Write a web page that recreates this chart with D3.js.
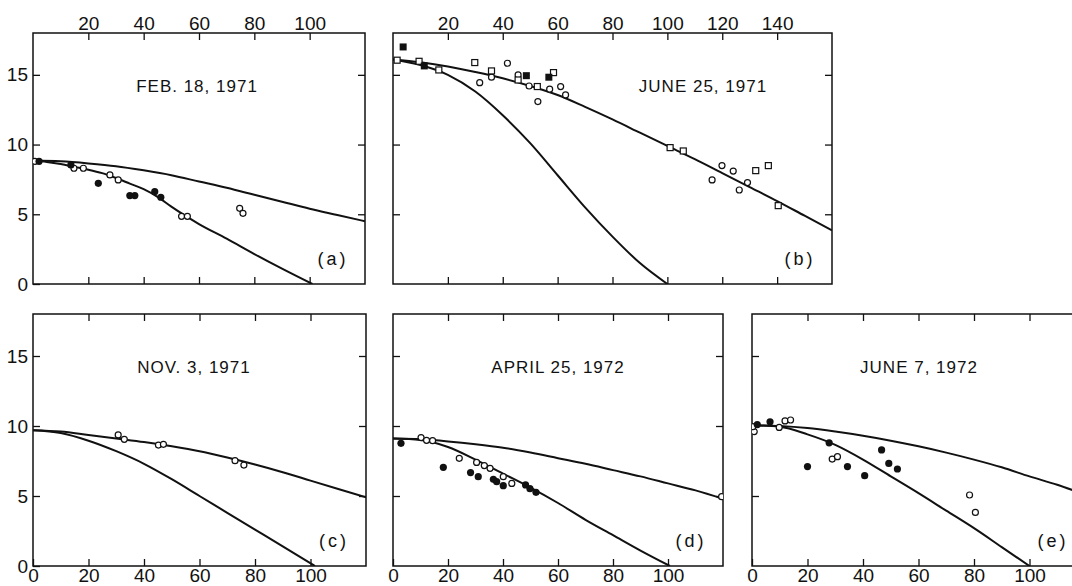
<!DOCTYPE html>
<html>
<head>
<meta charset="utf-8">
<script src="https://cdn.jsdelivr.net/npm/d3@7"></script>
<style>
body { margin: 0; background: #fff; }
svg { display: block; }
.axis text { font-family: "Liberation Sans", Arial, sans-serif; font-size: 19px; fill: #111; }
.axis line { stroke: #111; stroke-width: 1.3; }
.axis path { display: none; }
.title { font-family: "Liberation Sans", Arial, sans-serif; font-size: 17px; letter-spacing: 1px; fill: #111; }
.tag { font-family: "Liberation Sans", Arial, sans-serif; font-size: 18px; letter-spacing: 3px; fill: #111; }
</style>
</head>
<body>
<svg id="chart" width="1072" height="586"></svg>
<script>
// curves are [distance, value] pairs
const febUpper = [[0,8.85],[10,8.8],[20,8.65],[30,8.45],[40,8.15],[50,7.8],[60,7.35],[70,6.9],[80,6.4],[90,5.9],[100,5.4],[110,4.95],[120,4.5]];
const febLower = [[0,8.85],[5,8.75],[10,8.6],[15,8.4],[20,8.2],[25,7.95],[30,7.6],[35,7.2],[40,6.8],[45,6.25],[50,5.55],[55,4.9],[60,4.3],[70,3.25],[80,2.15],[90,1.1],[101,0]];
const febOpen = [[0.7,8.8],[14.8,8.3],[18.2,8.3],[27.8,7.82],[30.8,7.46],[53.7,4.85],[55.8,4.85],[74.7,5.43],[75.9,5.07]];
const febFilled = [[2.2,8.8],[13.7,8.54],[23.6,7.22],[35,6.34],[36.8,6.34],[44,6.62],[46.2,6.22]];

const juneUpper = [[0,16.1],[10,15.9],[20,15.6],[30,15.2],[40,14.75],[50,14.2],[60,13.55],[70,12.7],[80,11.8],[90,10.85],[100,9.9],[110,8.95],[120,7.95],[130,6.95],[140,5.95],[150,4.9],[160,3.85]];
const juneLower = [[0,16.1],[10,15.7],[20,15.0],[30,13.8],[40,12.1],[50,10.1],[60,7.8],[70,5.5],[80,3.4],[90,1.5],[100,0]];
const juneOpen = [[31.6,14.44],[35.9,14.83],[41.7,15.83],[45.6,14.99],[49.6,14.2],[52.8,13.08],[57.1,13.97],[61.1,14.16],[62.9,13.56],[116.3,7.46],[119.9,8.49],[124,8.1],[126.2,6.74],[129.2,7.27]];
const juneOpenSq = [[1.5,16.05],[9.5,15.97],[16.7,15.35],[29.8,15.88],[35.9,15.28],[45.6,14.63],[52.6,14.16],[58.5,15.16],[101,9.78],[105.8,9.54],[132.2,8.13],[136.8,8.49],[140.4,5.62]];
const juneFilledSq = [[3.7,17.0],[11.4,15.64],[48.6,14.94],[56.8,14.83]];

const novUpper = [[0,9.7],[10,9.6],[20,9.35],[30,9.1],[40,8.85],[50,8.55],[60,8.2],[70,7.75],[80,7.25],[90,6.7],[100,6.1],[110,5.5],[120,4.9]];
const novLower = [[0,9.7],[10,9.5],[20,8.95],[30,8.2],[40,7.3],[50,6.2],[60,5.0],[70,3.8],[80,2.6],[90,1.4],[101.6,0]];
const novOpen = [[30.7,9.36],[32.9,9.05],[45.2,8.64],[47,8.69],[72.8,7.52],[76,7.21]];

const aprUpper = [[0,9.1],[10,9.05],[20,8.9],[30,8.7],[40,8.45],[50,8.1],[60,7.7],[70,7.3],[80,6.85],[90,6.4],[100,5.9],[110,5.4],[120,4.8]];
const aprLower = [[0,9.1],[10,9.0],[20,8.5],[30,7.6],[40,6.6],[50,5.6],[60,4.5],[70,3.3],[80,2.2],[90,1.1],[100.7,0]];
const aprOpen = [[10.2,9.17],[12.2,8.98],[14.4,8.95],[24.1,7.69],[30.4,7.4],[33.2,7.17],[35.3,6.98],[40.1,6.38],[43.2,5.9],[119.5,4.95]];
const aprFilled = [[2.9,8.76],[18.3,7.05],[28.2,6.67],[31,6.38],[36.5,6.19],[37.7,6.02],[40.1,5.74],[48.2,5.79],[49.8,5.52],[52,5.26]];

const jun72Upper = [[0,10.05],[10,10.0],[20,9.85],[30,9.6],[40,9.3],[50,8.95],[60,8.55],[70,8.1],[80,7.6],[90,7.05],[100,6.4],[110,5.8],[120,5.1]];
const jun72Lower = [[0,10.05],[10,9.95],[20,9.4],[30,8.65],[40,7.6],[50,6.4],[60,5.2],[70,3.95],[80,2.7],[90,1.35],[100,0]];
const jun72Open = [[0.8,9.6],[0.3,9.95],[9.8,9.9],[11.9,10.36],[13.9,10.43],[28.9,7.64],[30.8,7.81],[78.4,5.07],[80.5,3.83]];
const jun72Filled = [[1.9,10.1],[6.5,10.3],[20,7.1],[27.8,8.8],[34.4,7.1],[40.6,6.45],[46.7,8.29],[49.3,7.33],[52.4,6.93]];

const yLabels = [0, 5, 10, 15];

const panels = [
  { id: "a", left: 33, top: 33, w: 332, h: 251, xMax: 120, title: "FEB. 18, 1971", titleX: 164, xLab: "top", yLab: true,
    curves: [febUpper, febLower], open: febOpen, filled: febFilled },
  { id: "b", left: 393, top: 33, w: 439, h: 251, xMax: 160, title: "JUNE 25, 1971", titleX: 310, xLab: "top", yLab: false,
    curves: [juneUpper, juneLower], open: juneOpen, openSq: juneOpenSq, filledSq: juneFilledSq },
  { id: "c", left: 33, top: 314, w: 333, h: 252, xMax: 120, title: "NOV. 3, 1971", titleX: 161, xLab: "bottom", yLab: true,
    curves: [novUpper, novLower], open: novOpen },
  { id: "d", left: 393, top: 314, w: 330, h: 252, xMax: 120, title: "APRIL 25, 1972", titleX: 165, xLab: "bottom", yLab: false,
    curves: [aprUpper, aprLower], open: aprOpen, filled: aprFilled },
  { id: "e", left: 752, top: 314, w: 333, h: 252, xMax: 120, title: "JUNE 7, 1972", titleX: 167, xLab: "bottom", yLab: false,
    curves: [jun72Upper, jun72Lower], open: jun72Open, filled: jun72Filled }
];

const svg = d3.select("#chart");

panels.forEach(function (p) {
  const g = svg.append("g").attr("transform", "translate(" + p.left + "," + p.top + ")");
  const x = d3.scaleLinear().domain([0, p.xMax]).range([0, p.w]);
  const y = d3.scaleLinear().domain([0, 18]).range([p.h, 0]);
  const xt = d3.range(20, p.xMax, 20);

  g.append("clipPath").attr("id", "clip-" + p.id)
    .append("rect").attr("width", p.w).attr("height", p.h);

  // axes, ticks point inward
  g.append("g").attr("class", "axis")
    .call(d3.axisTop(x).tickValues(xt).tickSize(-7).tickPadding(3)
      .tickFormat(p.xLab === "top" ? d3.format("d") : ""));
  g.append("g").attr("class", "axis").attr("transform", "translate(0," + p.h + ")")
    .call(d3.axisBottom(x).tickValues(p.xLab === "bottom" ? [0].concat(xt) : xt).tickSize(-7).tickPadding(2)
      .tickFormat(p.xLab === "bottom" ? d3.format("d") : ""));
  g.append("g").attr("class", "axis")
    .call(d3.axisLeft(y).tickValues(p.yLab ? yLabels : [5, 10, 15]).tickSize(-7).tickPadding(5)
      .tickFormat(p.yLab ? d3.format("d") : ""));
  g.append("g").attr("class", "axis").attr("transform", "translate(" + p.w + ",0)")
    .call(d3.axisRight(y).tickValues([5, 10, 15]).tickSize(-7).tickFormat(""));

  g.append("rect").attr("width", p.w).attr("height", p.h)
    .attr("fill", "none").attr("stroke", "#111").attr("stroke-width", 1.5);

  const plot = g.append("g").attr("clip-path", "url(#clip-" + p.id + ")");
  const line = d3.line().x(d => x(d[0])).y(d => y(d[1])).curve(d3.curveMonotoneX);

  plot.selectAll("path.curve").data(p.curves).enter().append("path")
    .attr("class", "curve").attr("d", line)
    .attr("fill", "none").attr("stroke", "#111").attr("stroke-width", 2);

  plot.selectAll("circle.open").data(p.open || []).enter().append("circle")
    .attr("class", "open").attr("cx", d => x(d[0])).attr("cy", d => y(d[1])).attr("r", 3)
    .attr("fill", "#fff").attr("stroke", "#111").attr("stroke-width", 1.2);
  plot.selectAll("circle.filled").data(p.filled || []).enter().append("circle")
    .attr("class", "filled").attr("cx", d => x(d[0])).attr("cy", d => y(d[1])).attr("r", 3.6)
    .attr("fill", "#111");
  plot.selectAll("rect.osq").data(p.openSq || []).enter().append("rect")
    .attr("class", "osq").attr("x", d => x(d[0]) - 3).attr("y", d => y(d[1]) - 3)
    .attr("width", 6).attr("height", 6)
    .attr("fill", "#fff").attr("stroke", "#111").attr("stroke-width", 1.2);
  plot.selectAll("rect.fsq").data(p.filledSq || []).enter().append("rect")
    .attr("class", "fsq").attr("x", d => x(d[0]) - 3.5).attr("y", d => y(d[1]) - 3.5)
    .attr("width", 7).attr("height", 7).attr("fill", "#111");

  g.append("text").attr("class", "title")
    .attr("x", p.titleX).attr("y", 59).attr("text-anchor", "middle").text(p.title);
  g.append("text").attr("class", "tag")
    .attr("x", p.w - 32).attr("y", p.h - 19).attr("text-anchor", "middle").text("(" + p.id + ")");
});
</script>
</body>
</html>
